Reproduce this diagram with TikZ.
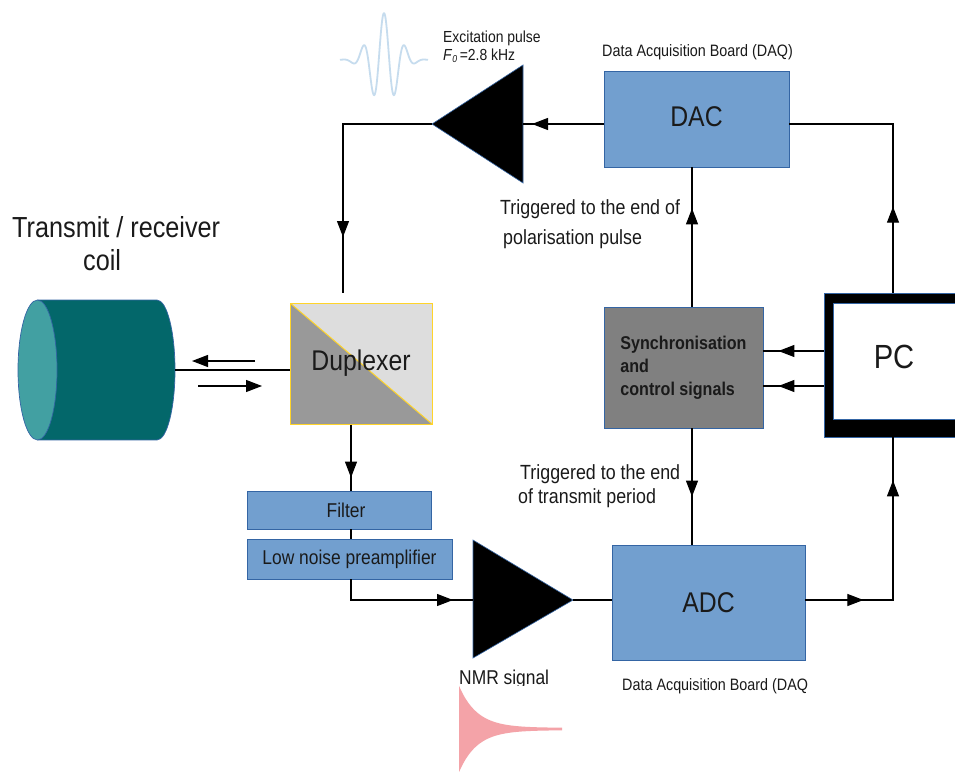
\documentclass[tikz,border=0pt]{standalone}
\usepackage{fontspec}
\setmainfont{Liberation Sans}[FakeStretch=0.87]
\usetikzlibrary{arrows.meta,decorations.markings}

\definecolor{boxblue}{HTML}{729FCF}
\definecolor{edgeblue}{HTML}{3465A4}
\definecolor{coilbody}{HTML}{03676A}
\definecolor{coilface}{HTML}{42A0A2}
\definecolor{dupyellow}{HTML}{FFD42A}
\definecolor{duplight}{HTML}{DDDDDD}
\definecolor{dupdark}{HTML}{999999}
\definecolor{syncgray}{HTML}{808080}
\definecolor{pulseblue}{HTML}{C6DCEE}
\definecolor{fidpink}{HTML}{F4A3A8}
\definecolor{ink}{HTML}{1A1A1A}

\tikzset{
  bigtri/.tip={Triangle[length=16pt,width=12pt]},
  blockbox/.style={draw=edgeblue, fill=boxblue, line width=0.8pt, inner sep=0pt, text=ink},
  wire/.style={line width=1.1pt, draw=black},
  arrowat/.style={postaction={decorate,decoration={markings,mark=at position #1 with {\arrow{bigtri}}}}},
  lbl/.style={anchor=base west, inner sep=0pt, text=ink},
  amp/.style={fill=black, draw=edgeblue, line width=0.6pt, line join=miter},
}

\begin{document}
\begin{tikzpicture}[x=1pt,y=-1pt]
\useasboundingbox (0,0) rectangle (955,771);
\clip (0,0) rectangle (955,771);
\fill[white] (0,0) rectangle (955,771);

% excitation wavelet
\draw[pulseblue, line width=1.8pt, line join=round]
  plot[domain=-44:44, samples=140, smooth]
  ({384+\x},{60-47*cos(360*\x/21)*exp(0-(\x*\x/361))});

% coil (cylinder seen from the side)
\fill[coilbody] (37.5,300) rectangle (157,440);
\fill[coilbody] (157,370) ellipse [x radius=18, y radius=70];
\draw[edgeblue, line width=0.7pt] (37.5,300) -- (157,300)
  arc[start angle=-90, end angle=90, x radius=18, y radius=70] -- (37.5,440);
\filldraw[fill=coilface, draw=edgeblue, line width=0.7pt] (37.5,370) ellipse [x radius=19.5, y radius=70];
\coordinate (coilR) at (175,370);

% blocks
\node[blockbox, minimum width=185pt, minimum height=96pt, font=\fontsize{28.5}{28.5}\selectfont]
  (dac) at (696.5,119) {\raisebox{5pt}{DAC}};
\node[blockbox, fill=syncgray, minimum width=159pt, minimum height=121pt, align=left,
  font=\bfseries\fontsize{18.5}{23}\selectfont]
  (sync) at (683.5,367.5) {Synchronisation\\and\\control signals};
\node[blockbox, minimum width=193pt, minimum height=115pt, font=\fontsize{28.5}{28.5}\selectfont]
  (adc) at (708.5,602.5) {ADC};
\node[blockbox, minimum width=184pt, minimum height=38pt, font=\fontsize{20}{20}\selectfont]
  (filter) at (339,510) {\hspace*{14pt}Filter};
\node[blockbox, minimum width=205pt, minimum height=40pt, font=\fontsize{20}{20}\selectfont]
  (lna) at (349.5,559) {Low noise preamplifier};

% duplexer
\node[draw=dupyellow, fill=duplight, line width=1pt, inner sep=0pt,
  minimum width=142pt, minimum height=121pt, text=ink, font=\fontsize{28.5}{28.5}\selectfont,
  path picture={
    \fill[dupdark] (path picture bounding box.north west) -- (path picture bounding box.south west)
      -- (path picture bounding box.south east) -- cycle;
    \draw[dupyellow, line width=1pt] (path picture bounding box.north west) -- (path picture bounding box.south east);
  }] (dup) at (361,363.5) {Duplexer};

% PC with heavy frame
\node[fill=black, draw=edgeblue, line width=0.7pt, inner sep=0pt, minimum width=146pt, minimum height=144pt]
  (pc) at (897,365) {};
\filldraw[fill=white, draw=edgeblue, line width=0.7pt]
  ([xshift=10pt,yshift=-11pt]pc.north west) rectangle ([xshift=10pt,yshift=18pt]pc.south east);
\node[text=ink, inner sep=0pt, font=\fontsize{33.5}{33.5}\selectfont] (pctxt) at (894,357) {PC};

% amplifiers
\coordinate (txtip) at (432,124);
\coordinate (txbase) at (523,124);
\draw[amp] (txtip) -- (523,65) -- (523,183) -- cycle;
\coordinate (rxtip) at (573,600);
\coordinate (rxbase) at (473,600);
\draw[amp] (rxtip) -- (473,540) -- (473,658) -- cycle;

% signal paths
\coordinate (dupin) at (343,293);
\coordinate (dupout) at ([xshift=-10pt]dup.south);
\draw[wire, arrowat=-9pt] (dac.west |- txbase) -- (txbase);
\draw[wire, arrowat=-56pt] (txtip) -| (dupin);
\draw[wire] (coilR) -- (dup.west |- coilR);
\draw[wire, arrowat=-13pt] (dupout) -- (dupout |- filter.north);
\draw[wire] (dupout |- filter.south) -- (dupout |- lna.north);
\draw[wire, arrowat=-20pt] (dupout |- lna.south) |- (rxbase);
\draw[wire] (rxtip) -- (adc.west |- rxtip);
\draw[wire, arrowat=58pt, arrowat=-43pt] (adc.east |- rxtip) -| ([xshift=-4pt]pc.south);
\draw[wire, arrowat=86pt] ([xshift=-4pt]pc.north) |- (dac.east |- txbase);
\draw[wire, arrowat=-41pt] ([xshift=8.5pt]sync.north) -- ([xshift=-4.5pt]dac.south);
\draw[wire, arrowat=-48pt] ([xshift=8.5pt]sync.south) -- ([xshift=-16.5pt]adc.north);
\draw[wire, arrowat=-15pt] ([yshift=14pt]pc.west) -- ([yshift=14pt]pc.west -| sync.east);
\draw[wire, arrowat=-15pt] ([yshift=-21pt]pc.west) -- ([yshift=-21pt]pc.west -| sync.east);

% transmit / receive arrows beside the coil lead
\coordinate (ta1) at (255,361);
\coordinate (ta2) at (192,361);
\coordinate (ra1) at (198,386);
\coordinate (ra2) at (262,386);
\draw[wire, -bigtri] (ta1) -- (ta2);
\draw[wire, -bigtri] (ra1) -- (ra2);

% labels
\node[lbl, font=\fontsize{29}{29}\selectfont] (coiltxt1) at (12,237) {Transmit / receiver};
\node[lbl, font=\fontsize{29}{29}\selectfont] (coiltxt2) at (83,270) {coil};
\node[lbl, font=\fontsize{16}{16}\selectfont] (exc1) at (443,42) {Excitation pulse};
\node[lbl, font=\fontsize{16}{16}\selectfont] (exc2) at (443,60)
  {\textit{F}\raisebox{-2pt}{\fontsize{10}{10}\selectfont\itshape 0}\,=2.8 kHz};
\node[lbl, font=\fontsize{16.5}{16.5}\selectfont] (daq1) at (602,56) {Data Acquisition Board (DAQ)};
\node[lbl, font=\fontsize{16.5}{16.5}\selectfont] (daq2) at (622,690) {Data Acquisition Board (DAQ};
\node[lbl, font=\fontsize{20.5}{20.5}\selectfont] (trig1a) at (500,214) {Triggered to the end of};
\node[lbl, font=\fontsize{20.5}{20.5}\selectfont] (trig1b) at (503,244) {polarisation pulse};
\node[lbl, font=\fontsize{20.5}{20.5}\selectfont] (trig2a) at (520,479) {Triggered to the end};
\node[lbl, font=\fontsize{20.5}{20.5}\selectfont] (trig2b) at (518,503) {of transmit period};
\node[lbl, font=\fontsize{20}{20}\selectfont] (nmr) at (459,684) {NMR signal};

% free induction decay trace
\fill[white] (457,686) rectangle (563,771);
\fill[fidpink]
  plot[domain=0:103, samples=80] ({459+\x},{729-42*exp(0-\x/18)-1.2})
  -- plot[domain=103:0, samples=80] ({459+\x},{729+42*exp(0-\x/18)+1.2}) -- cycle;
\end{tikzpicture}
\end{document}
